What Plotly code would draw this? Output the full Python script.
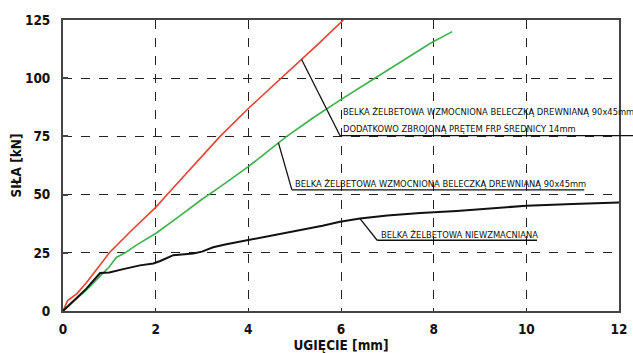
import plotly.graph_objects as go

# Load–deflection curves (deflection in mm, force in kN)
frp_defl = [0, 0.1, 0.3, 0.5, 0.75, 1.0, 1.5, 2.0, 2.2, 2.8, 3.39, 4.0, 4.72, 5.15, 5.5, 6.05]
frp_force = [0, 4.5, 7.5, 12, 18.5, 25, 35, 44.5, 49, 62, 75, 87, 100, 108, 114.5, 125]

wood_defl = [0, 0.3, 0.5, 0.8, 1.0, 1.15, 1.34, 1.6, 2.0, 2.5, 3.0, 3.39, 4.0, 4.65, 4.83, 5.4, 5.98, 6.73, 7.3, 7.93, 8.4]
wood_force = [0, 5.5, 9, 15, 19, 23, 25, 28.5, 33.3, 40.5, 48, 53.3, 62, 72.2, 75, 83, 90.6, 100, 107, 115, 120]

plain_defl = [0, 0.3, 0.5, 0.8, 1.0, 1.3, 1.66, 1.95, 2.1, 2.38, 2.81, 3.0, 3.24, 3.5, 3.97, 4.5, 5.12, 5.6, 5.98, 6.41, 7.0, 7.71, 8.5, 9.2, 10.0, 11.0, 12.0]
plain_force = [0, 5.5, 9.5, 16.3, 16.5, 18, 19.6, 20.4, 21.5, 24, 24.7, 25.5, 27.4, 28.6, 30.4, 32.3, 34.7, 36.6, 38.3, 39.7, 41, 42.1, 43, 44, 45.2, 46, 46.6]

x_ticks = [0, 2, 4, 6, 8, 10, 12]
y_ticks = [0, 25, 50, 75, 100, 125]

label_frp_1 = "BELKA ŻELBETOWA WZMOCNIONA BELECZKĄ DREWNIANĄ 90x45mm"
label_frp_2 = "DODATKOWO ZBROJONĄ PRĘTEM FRP ŚREDNICY 14mm"
label_wood = "BELKA ŻELBETOWA WZMOCNIONA BELECZKĄ DREWNIANĄ 90x45mm"
label_plain = "BELKA ŻELBETOWA NIEWZMACNIANA"

NARROW = "DejaVu Sans Condensed, Liberation Sans Narrow, sans-serif"

fig = go.Figure()
fig.add_trace(go.Scatter(x=frp_defl, y=frp_force, mode="lines",
                         line=dict(color="#e8432e", width=1.6), showlegend=False))
fig.add_trace(go.Scatter(x=wood_defl, y=wood_force, mode="lines",
                         line=dict(color="#3db24c", width=1.6), showlegend=False))
fig.add_trace(go.Scatter(x=plain_defl, y=plain_force, mode="lines",
                         line=dict(color="#111111", width=2), showlegend=False))

line_style = dict(color="#111111", width=1.3)
shapes = [
    # leader + underline, FRP-reinforced beam (underline runs past the right axis)
    dict(type="line", xref="x", yref="y", x0=5.15, y0=108, x1=5.98, y1=75.3, line=line_style),
    dict(type="line", xref="paper", yref="y", x0=5.98 / 12, y0=75.3, x1=1.026, y1=75.3, line=line_style),
    # leader + underline, timber-strengthened beam
    dict(type="line", xref="x", yref="y", x0=4.65, y0=72.2, x1=4.94, y1=52.0, line=line_style),
    dict(type="line", xref="x", yref="y", x0=4.94, y0=52.0, x1=11.25, y1=52.0, line=line_style),
    # leader + underline, plain beam
    dict(type="line", xref="x", yref="y", x0=6.41, y0=39.7, x1=6.78, y1=30.4, line=line_style),
    dict(type="line", xref="x", yref="y", x0=6.78, y0=30.4, x1=10.23, y1=30.4, line=line_style),
]

ann_font = dict(family=NARROW, size=9.3, color="#111111")
annotations = [
    dict(x=6.0, y=85.5, xref="x", yref="y", text=label_frp_1, showarrow=False,
         xanchor="left", yanchor="middle", font=ann_font),
    dict(x=6.0, y=78.5, xref="x", yref="y", text=label_frp_2, showarrow=False,
         xanchor="left", yanchor="middle", font=ann_font),
    dict(x=4.96, y=54.8, xref="x", yref="y", text=label_wood, showarrow=False,
         xanchor="left", yanchor="middle", font=ann_font),
    dict(x=6.82, y=32.8, xref="x", yref="y", text=label_plain, showarrow=False,
         xanchor="left", yanchor="middle", font=ann_font),
]

axis_common = dict(
    showline=True, linecolor="#444444", linewidth=2, mirror=True,
    showgrid=True, gridcolor="#222222", gridwidth=1.3, griddash="dash",
    zeroline=False, automargin=False,
    tickfont=dict(family=NARROW, size=13.5, color="#111111", weight="bold"),
    title_font=dict(family=NARROW, size=13.5, color="#111111", weight="bold"),
)

fig.update_layout(
    width=633, height=353,
    margin=dict(l=63, r=14, t=20, b=42),
    paper_bgcolor="white", plot_bgcolor="white",
    shapes=shapes, annotations=annotations,
    xaxis=dict(range=[0, 12], tickvals=x_ticks, ticks="",
               title=dict(text="UGIĘCIE [mm]", standoff=3),
               ticklabelstandoff=5, **axis_common),
    yaxis=dict(range=[0, 125], tickvals=y_ticks, ticks="inside", ticklen=5,
               tickcolor="#444444", tickwidth=1.5,
               title=dict(text="SIŁA [kN]", standoff=0),
               ticklabelstandoff=8, **axis_common),
)

fig.write_html("out.html")
